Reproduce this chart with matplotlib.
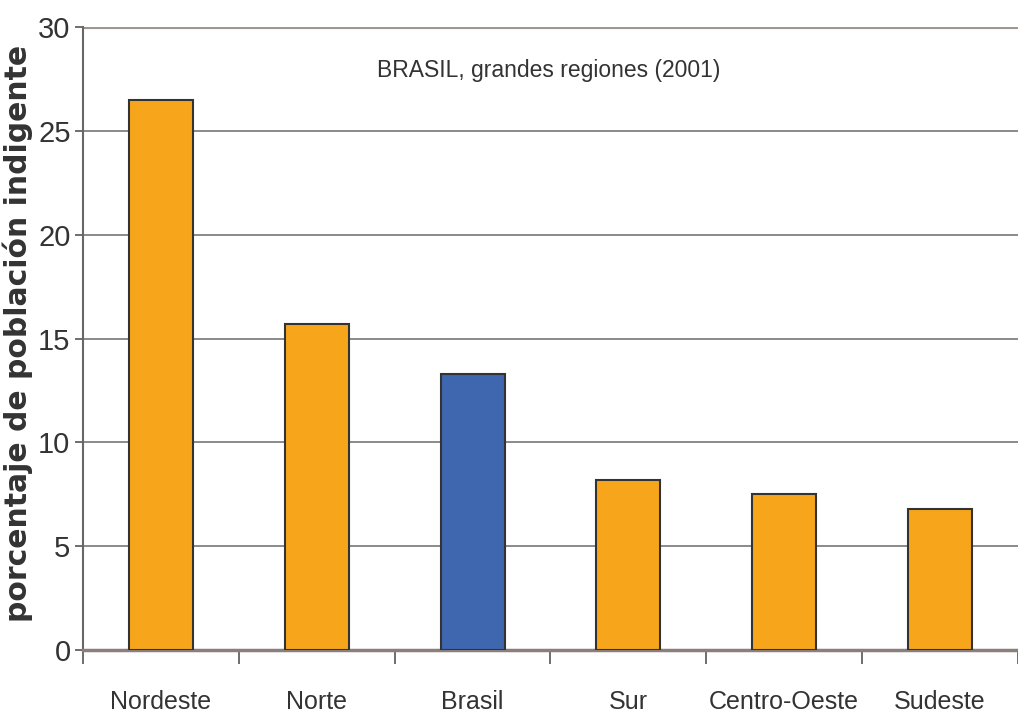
import numpy as np
import matplotlib.pyplot as plt

regiones = ["Nordeste", "Norte", "Brasil", "Sur", "Centro-Oeste", "Sudeste"]
porcentaje = [26.5, 15.7, 13.3, 8.2, 7.5, 6.8]
colores = ["#F7A61C", "#F7A61C", "#3E67AF", "#F7A61C", "#F7A61C", "#F7A61C"]
yticks = [0, 5, 10, 15, 20, 25, 30]

narrow = "Liberation Sans"

fig = plt.figure(figsize=(10.18, 7.23), dpi=100)
ax = fig.add_axes([83 / 1018, 73 / 723, 935 / 1018, 623 / 723])

x = np.arange(len(regiones))
ax.bar(x, porcentaje, width=0.41, color=colores, edgecolor="#333333", linewidth=1.5, zorder=3)

ax.set_xlim(-0.5, len(regiones) - 0.5)
ax.set_ylim(0, 30)

# gridlines
for v in yticks[1:-1]:
    ax.axhline(v, color="#6b6b6b", linewidth=1.1, zorder=1)
ax.axhline(30, color="#a09692", linewidth=3, zorder=1)

ax.spines["top"].set_visible(False)
ax.spines["right"].set_visible(False)
ax.spines["left"].set_color("#6b6666")
ax.spines["left"].set_linewidth(1.5)
ax.spines["bottom"].set_color("#8a7f7b")
ax.spines["bottom"].set_linewidth(2.5)

ax.set_yticks(yticks)
ax.set_yticklabels([str(v) for v in yticks], fontfamily=narrow, fontsize=21, color="#333333")
ax.tick_params(axis="y", length=6, width=1.2, color="#555555", pad=3)

# category boundaries as ticks, labels in the middle
ax.set_xticks(np.arange(-0.5, len(regiones)), minor=False)
ax.set_xticklabels([])
ax.set_xticks(x, minor=True)
ax.set_xticklabels(regiones, minor=True, fontfamily=narrow, fontsize=18, color="#333333")
ax.tick_params(axis="x", which="major", length=10, width=1.2, color="#555555")
ax.tick_params(axis="x", which="minor", length=0, pad=29)

ax.text(0.4985, 0.93, "BRASIL, grandes regiones (2001)", transform=ax.transAxes,
        ha="center", va="center", fontfamily=narrow, fontsize=16.5, color="#333333")

fig.text(18 / 1018, 1 - 333 / 723, "porcentaje de población indigente", rotation=90,
         ha="center", va="center", fontsize=21.5, fontweight="bold", color="#333333")

fig.savefig("out.png", dpi=100)
